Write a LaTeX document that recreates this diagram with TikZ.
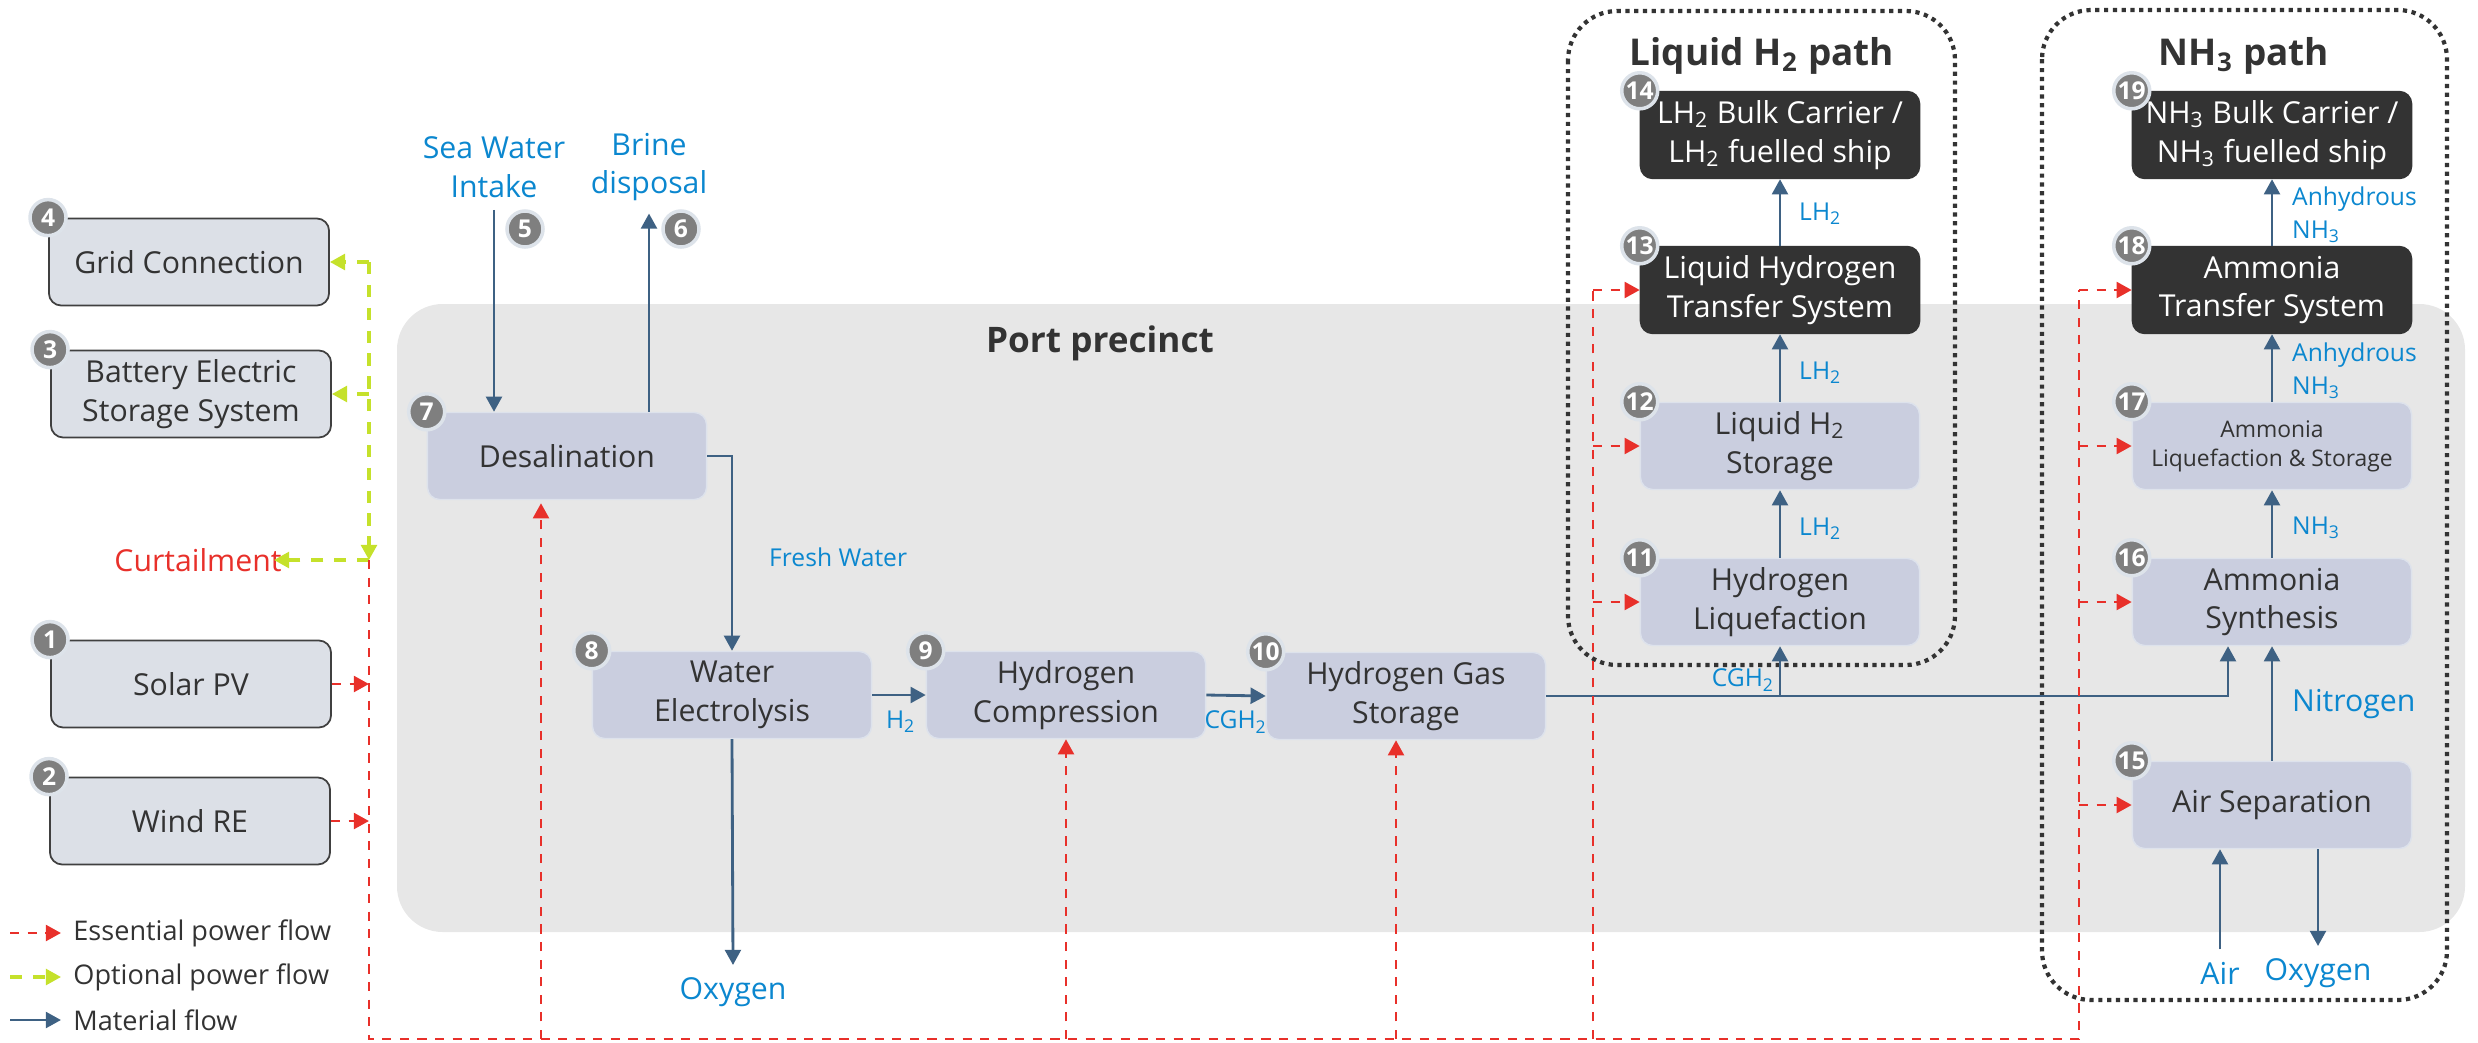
\documentclass[tikz,border=0pt]{standalone}
\usepackage{fontspec}
\setmainfont{Open Sans}
\usetikzlibrary{arrows.meta,calc}

\definecolor{pwrred}{HTML}{E8302A}
\definecolor{optgreen}{HTML}{C5E12B}
\definecolor{matblue}{HTML}{3E6183}
\definecolor{lblblue}{HTML}{0B87CF}
\definecolor{srcfill}{HTML}{DCE0E7}
\definecolor{srcline}{HTML}{404040}
\definecolor{procfill}{HTML}{CACEDF}
\definecolor{procline}{HTML}{DDE2EC}
\definecolor{darkfill}{HTML}{333333}
\definecolor{badgefill}{HTML}{7F7F7F}
\definecolor{badgering}{HTML}{DDE3EA}
\definecolor{portbg}{HTML}{E7E7E7}
\definecolor{txtdark}{HTML}{333333}

\newcommand\procfont{\fontsize{8.6}{11}\selectfont}
\newcommand\smallprocfont{\fontsize{6.5}{8.2}\selectfont}
\newcommand\lblfont{\fontsize{7}{9.2}\selectfont}
\newcommand\legfont{\fontsize{7.7}{9}\selectfont}
\newcommand\numfont{\fontsize{7}{8}\selectfont\bfseries}

\tikzset{
	srcbox/.style={draw=srcline, fill=srcfill, line width=0.5pt, rounded corners=3.5pt, minimum width=2.8cm, minimum height=0.87cm, inner sep=2pt, align=center, font=\procfont, text=txtdark},
	procbox/.style={draw=procline, fill=procfill, line width=0.4pt, rounded corners=3.5pt, minimum width=2.79cm, minimum height=0.87cm, inner sep=2pt, align=center, font=\procfont, text=txtdark},
	shipbox/.style={procbox, draw=darkfill, fill=darkfill, text=white},
	badge/.style={circle, fill=badgefill, draw=badgering, line width=1pt, minimum size=0.36cm, inner sep=0pt, text=white, font=\numfont},
	tip/.style={-{Triangle[length=4.3pt,width=4.5pt]}},
	flow/.style={draw=matblue, line width=0.8pt, tip},
	pwrline/.style={draw=pwrred, line width=0.8pt, dash pattern=on 2.6pt off 2.4pt},
	pwr/.style={pwrline, tip},
	opt/.style={draw=optgreen, line width=0.9pt, dash pattern=on 3.5pt off 3pt, tip},
	flowlbl/.style={text=lblblue, font=\lblfont, inner sep=1pt, align=left},
	extlbl/.style={text=lblblue, font=\procfont, align=center},
	pathbox/.style={draw=txtdark, line width=1.2pt, dash pattern=on 1.2pt off 1.3pt, rounded corners=14pt},
	title/.style={font=\fontsize{10.5}{12}\selectfont\bfseries, text=txtdark}
}

\begin{document}
\begin{tikzpicture}[x=0.01cm,y=-0.01cm]
	\useasboundingbox (0,0) rectangle (2478,1042);

	\fill[portbg, rounded corners=13pt] (397,304) rectangle (2465,932);
	\node[title, font=\fontsize{10}{12}\selectfont\bfseries] (port) at (1100,343) {Port precinct};
	\draw[pathbox] (1568,11) rectangle (1955,665);
	\draw[pathbox] (2042,10) rectangle (2447,1000);
	\node[title] (lhpath) at (1762,56) {Liquid H\textsubscript{2} path};
	\node[title] (nhpath) at (2244,56) {NH\textsubscript{3} path};

	\node[srcbox] (grid) at (189,262) {Grid Connection};
	\node[srcbox] (battery) at (191,394) {Battery Electric\\Storage System};
	\node[srcbox] (solar) at (191,684) {Solar PV};
	\node[srcbox] (wind) at (190,821) {Wind RE};
	\node[text=pwrred, font=\procfont] (curt) at (198,560) {Curtailment};

	\node[extlbl] (sea) at (494,167) {Sea Water\\Intake};
	\node[extlbl] (brine) at (649,167) {Brine\\disposal};
	\node[procbox] (desal) at (567,456) {Desalination};
	\node[procbox] (elec) at (732,695) {Water\\Electrolysis};
	\node[procbox] (comp) at (1066,695) {Hydrogen\\Compression};
	\node[procbox] (gasst) at (1406,696) {Hydrogen Gas\\Storage};
	\node[extlbl] (oxyA) at (733,992) {Oxygen};

	\node[procbox] (liq) at (1780,602) {Hydrogen\\Liquefaction};
	\node[procbox] (lh2st) at (1780,446) {Liquid H\textsubscript{2}\\Storage};
	\node[shipbox] (lh2tr) at (1780,290) {Liquid Hydrogen\\Transfer System};
	\node[shipbox] (lh2ship) at (1780,135) {LH\textsubscript{2} Bulk Carrier /\\LH\textsubscript{2} fuelled ship};

	\node[procbox] (airsep) at (2272,805) {Air Separation};
	\node[procbox] (synth) at (2272,602) {Ammonia\\Synthesis};
	\node[procbox, font=\smallprocfont] (nh3liq) at (2272,446) {Ammonia\\Liquefaction \& Storage};
	\node[shipbox] (nh3tr) at (2272,290) {Ammonia\\Transfer System};
	\node[shipbox] (nh3ship) at (2272,135) {NH\textsubscript{3} Bulk Carrier /\\NH\textsubscript{3} fuelled ship};
	\node[extlbl] (air) at (2220,973) {Air};
	\node[extlbl] (oxyB) at (2318,973) {Oxygen};

	\node[badge] (b1) at (solar.north west) {1};
	\node[badge] (b2) at (wind.north west) {2};
	\node[badge] (b3) at (battery.north west) {3};
	\node[badge] (b4) at (grid.north west) {4};
	\node[badge] (b5) at (525,229) {5};
	\node[badge] (b6) at (681,229) {6};
	\node[badge] (b7) at (desal.north west) {7};
	\node[badge] (b8) at (elec.north west) {8};
	\node[badge] (b9) at (comp.north west) {9};
	\node[badge] (b10) at (gasst.north west) {10};
	\node[badge] (b11) at (liq.north west) {11};
	\node[badge] (b12) at (lh2st.north west) {12};
	\node[badge] (b13) at (lh2tr.north west) {13};
	\node[badge] (b14) at (lh2ship.north west) {14};
	\node[badge] (b15) at (airsep.north west) {15};
	\node[badge] (b16) at (synth.north west) {16};
	\node[badge] (b17) at (nh3liq.north west) {17};
	\node[badge] (b18) at (nh3tr.north west) {18};
	\node[badge] (b19) at (nh3ship.north west) {19};

	\coordinate (busT) at (369,560);
	\coordinate (busB) at (369,1039);
	\coordinate (lhbus) at (1593,1039);
	\coordinate (nhbus) at (2079,1039);
	\coordinate (desalpin) at ($(desal.south)+(-26,3)$);
	\coordinate (storpin) at ($(gasst.south)+(-10,0)$);
	\coordinate (synin) at ($(synth.south)+(-44,0)$);
	\coordinate (curtin) at ($(curt.east)+(-20,0)$);

	\draw[flow] (sea.south) -- (sea.south |- desal.north);
	\draw[flow] (brine.south |- desal.north) -- (brine.south);
	\draw[flow] (desal.east) -| (elec.north);
	\node[flowlbl, anchor=west] (fresh) at (765,557) {Fresh Water};
	\draw[flow] (elec.east) -- (comp.west);
	\node[flowlbl] (h2) at (901,722) {H\textsubscript{2}};
	\draw[flow] (comp.east) -- (gasst.west);
	\node[flowlbl] (cgh2a) at (1236,722) {CGH\textsubscript{2}};
	\draw[flow] (elec.south) -- (oxyA.north);
	\draw[flow] (gasst.east) -| (synin);
	\draw[flow] (liq.south |- gasst.east) -- (liq.south);
	\node[flowlbl, anchor=east] (cgh2b) at (1779,680) {CGH\textsubscript{2}};
	\draw[flow] (liq.north) -- (lh2st.south);
	\node[flowlbl, anchor=west] (lh2a) at (1795,529) {LH\textsubscript{2}};
	\draw[flow] (lh2st.north) -- (lh2tr.south);
	\node[flowlbl, anchor=west] (lh2b) at (1795,373) {LH\textsubscript{2}};
	\draw[flow] (lh2tr.north) -- (lh2ship.south);
	\node[flowlbl, anchor=west] (lh2c) at (1795,214) {LH\textsubscript{2}};
	\draw[flow] (air.north) -- (air.north |- airsep.south);
	\draw[flow] (oxyB.north |- airsep.south) -- (oxyB.north);
	\draw[flow] (airsep.north) -- (synth.south);
	\node[flowlbl, anchor=west, font=\procfont] (nitro) at (2288,704) {Nitrogen};
	\draw[flow] (synth.north) -- (nh3liq.south);
	\node[flowlbl, anchor=west] (nh3a) at (2288,528) {NH\textsubscript{3}};
	\draw[flow] (nh3liq.north) -- (nh3tr.south);
	\node[flowlbl, anchor=west] (nh3b) at (2288,371) {Anhydrous\\NH\textsubscript{3}};
	\draw[flow] (nh3tr.north) -- (nh3ship.south);
	\node[flowlbl, anchor=west] (nh3c) at (2288,215) {Anhydrous\\NH\textsubscript{3}};

	\draw[opt] (grid.east -| busT) -- (busT);
	\draw[opt] (grid.east -| busT) -- (grid.east);
	\draw[opt] (battery.east -| busT) -- (battery.east);
	\draw[opt] (busT) -- (curtin);

	\draw[pwrline] (busT) -- (busB) -- (nhbus) -- (nhbus |- nh3tr.west);
	\draw[pwrline] (lhbus) -- (lhbus |- lh2tr.west);
	\draw[pwr] (solar.east) -- (solar.east -| busT);
	\draw[pwr] (wind.east) -- (wind.east -| busT);
	\draw[pwr] (desalpin |- busB) -- (desalpin);
	\draw[pwr] (comp.south |- busB) -- (comp.south);
	\draw[pwr] (storpin |- busB) -- (storpin);
	\draw[pwr] (lhbus |- lh2tr.west) -- (lh2tr.west);
	\draw[pwr] (lhbus |- lh2st.west) -- (lh2st.west);
	\draw[pwr] (lhbus |- liq.west) -- (liq.west);
	\draw[pwr] (nhbus |- nh3tr.west) -- (nh3tr.west);
	\draw[pwr] (nhbus |- nh3liq.west) -- (nh3liq.west);
	\draw[pwr] (nhbus |- synth.west) -- (synth.west);
	\draw[pwr] (nhbus |- airsep.west) -- (airsep.west);

	\node[anchor=west, font=\legfont, text=txtdark] (leg1) at (61,933) {Essential power flow};
	\node[anchor=west, font=\legfont, text=txtdark] (leg2) at (61,977) {Optional power flow};
	\node[anchor=west, font=\legfont, text=txtdark] (leg3) at (61,1020) {Material flow};
	\coordinate (lg1) at (10,933);
	\coordinate (lg2) at (10,977);
	\coordinate (lg3) at (10,1020);
	\draw[pwr] (lg1) -- (leg1.west);
	\draw[opt] (lg2) -- (leg2.west);
	\draw[flow] (lg3) -- (leg3.west);
\end{tikzpicture}
\end{document}
